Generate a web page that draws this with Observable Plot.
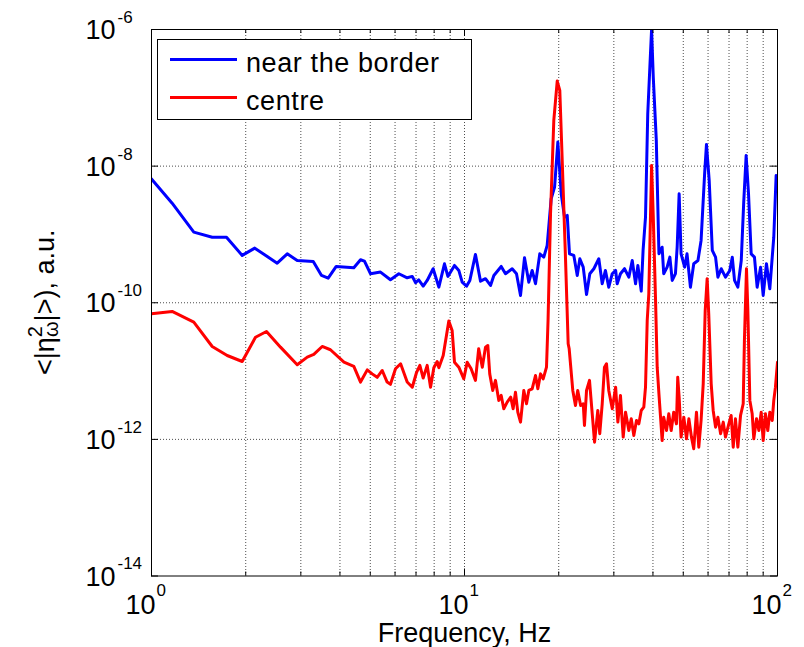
<!DOCTYPE html>
<html>
<head>
<meta charset="utf-8">
<script src="https://cdn.jsdelivr.net/npm/d3@7"></script>
<script src="https://cdn.jsdelivr.net/npm/@observablehq/plot@0.6"></script>
<style>
  html, body { margin: 0; padding: 0; background: #fff; }
  svg { display: block; }
</style>
</head>
<body>
<script>
// Power spectra <|eta_omega^2|> of the surface fluctuations, two probe positions.

// near the border: frequency (Hz) and power (a.u.)
const borderFreq = [
  1.0, 1.164, 1.365, 1.563, 1.736, 1.949, 2.138, 2.521, 2.714, 2.921,
  3.287, 3.493, 3.668, 3.892, 4.43, 4.654, 4.79, 5.01, 5.39, 5.80,
  6.17, 6.56, 6.81, 6.98, 7.14, 7.38, 7.60, 7.94, 8.28, 8.63,
  8.85, 9.29, 9.59, 9.83, 10.15, 10.4, 10.84, 11.25, 11.67, 12.11,
  12.41, 13.1, 13.52, 14.2, 14.66, 15.1, 15.55, 16.05, 16.45, 16.86,
  17.4, 17.92, 18.37, 18.92, 19.4, 19.87, 20.37, 20.87, 21.29, 21.65,
  22.35, 22.92, 23.36, 23.95, 24.54, 25.14, 25.9, 26.86, 27.54, 28.2,
  28.9, 29.65, 30.4, 30.75, 31.5, 32.45, 33.5, 34.35, 35.2, 35.8,
  36.7, 37.2, 37.87, 38.5, 39.1, 39.6, 40.1, 41.0, 41.8, 42.8,
  43.3, 44.4, 45.3, 46.1, 47.2, 47.8, 48.5, 49.2, 50.5, 51.4,
  52.7, 54.0, 55.7, 57.0, 58.5, 59.3, 60.5, 61.9, 63.4, 64.5,
  66.1, 68.2, 70.4, 71.7, 72.9, 74.7, 76.6, 78.0, 79.4, 80.8,
  82.4, 84.4, 86.1, 88.3, 90.0, 92.2, 94.5, 96.2, 97.3, 99.0,
  100
];
const borderPower = [
  6.5e-9, 2.87e-9, 1.08e-9, 9.1e-10, 9.1e-10, 4.93e-10, 6.3e-10, 3.8e-10, 5.2e-10, 4.16e-10,
  4.03e-10, 2.51e-10, 2.29e-10, 3.40e-10, 3.25e-10, 4.26e-10, 4.07e-10, 2.66e-10, 2.81e-10, 2.17e-10,
  2.66e-10, 2.32e-10, 2.43e-10, 1.96e-10, 2.17e-10, 1.75e-10, 2.12e-10, 3.15e-10, 1.69e-10, 3.72e-10,
  2.43e-10, 3.52e-10, 2.97e-10, 2.0e-10, 1.75e-10, 2.12e-10, 5.1e-10, 2.07e-10, 2.25e-10, 1.79e-10,
  2.51e-10, 3.40e-10, 2.66e-10, 3.15e-10, 2.66e-10, 1.28e-10, 4.56e-10, 2.0e-10, 2.97e-10, 1.90e-10,
  5.2e-10, 4.65e-10, 6.9e-10, 3.33e-9, 4.93e-9, 2.25e-8, 3.94e-9, 1.79e-9, 1.90e-9, 5.2e-10,
  4.93e-10, 2.51e-10, 4.41e-10, 3.32e-10, 1.32e-10, 2.66e-10, 3.15e-10, 4.41e-10, 1.90e-10, 2.97e-10,
  1.69e-10, 2.66e-10, 2.97e-10, 1.90e-10, 2.66e-10, 3.15e-10, 2.37e-10, 4.16e-10, 1.90e-10, 3.52e-10,
  1.48e-10, 5.83e-10, 1.79e-9, 5.85e-8, 2.8e-7, 1.0e-6, 2.0e-7, 2.38e-8, 5.2e-10, 6.5e-10,
  2.66e-10, 3.32e-10, 4.65e-10, 2.12e-10, 2.66e-10, 6.5e-10, 3.94e-9, 5.2e-10, 3.32e-10, 5.2e-10,
  1.69e-10, 3.72e-10, 4.16e-10, 8.17e-10, 7.74e-9, 2.08e-8, 6.18e-9, 5.83e-10, 4.65e-10, 2.37e-10,
  3.15e-10, 2.37e-10, 2.97e-10, 4.65e-10, 2.12e-10, 1.69e-10, 4.16e-10, 2.97e-9, 1.43e-8, 3.94e-9,
  5.2e-10, 4.65e-10, 1.69e-10, 3.32e-10, 1.28e-10, 3.72e-10, 1.60e-10, 4.65e-10, 9.1e-10, 7.3e-9,
  7.0e-9
];

// centre: frequency (Hz) and power (a.u.)
const centreFreq = [
  1.0, 1.164, 1.365, 1.563, 1.745, 1.949, 2.149, 2.330, 2.583, 2.921,
  3.145, 3.30, 3.51, 3.73, 4.12, 4.43, 4.654, 4.89, 5.07, 5.26,
  5.46, 5.66, 5.80, 6.02, 6.25, 6.56, 6.81, 7.03, 7.20, 7.38,
  7.60, 7.79, 7.98, 8.18, 8.28, 8.55, 8.91, 9.13, 9.29, 9.59,
  9.95, 10.2, 10.5, 10.84, 11.1, 11.4, 11.67, 11.87, 12.04, 12.31,
  12.56, 12.87, 13.1, 13.35, 13.69, 14.05, 14.3, 14.55, 14.8, 15.1,
  15.47, 15.78, 16.05, 16.45, 16.86, 17.15, 17.5, 17.84, 18.28, 18.49,
  18.83, 19.29, 19.78, 20.16, 20.52, 21.0, 21.44, 21.6, 22.18, 22.62,
  23.0, 23.5, 23.95, 24.17, 24.54, 25.08, 25.59, 26.03, 26.66, 27.05,
  27.54, 28.0, 28.42, 28.9, 29.65, 30.4, 30.9, 31.5, 32.14, 32.7,
  33.5, 34.1, 34.75, 35.44, 36.06, 36.7, 37.4, 37.87, 38.35, 38.8,
  39.3, 39.6, 40.1, 40.75, 41.27, 41.8, 42.3, 42.8, 43.3, 44.2,
  44.95, 45.75, 46.6, 47.55, 48.0, 48.5, 49.2, 50.2, 51.2, 52.1,
  53.1, 54.0, 55.1, 56.05, 57.0, 57.9, 58.75, 59.6, 60.3, 61.4,
  62.3, 63.4, 64.5, 65.8, 67.1, 68.2, 69.9, 71.1, 72.2, 73.4,
  74.7, 76.2, 77.7, 78.4, 79.6, 80.4, 81.6, 83.0, 84.0, 85.7,
  87.2, 88.7, 90.0, 91.5, 93.1, 94.5, 96.2, 97.3, 98.5, 100
];
const centrePower = [
  6.9e-11, 7.46e-11, 5.2e-11, 2.29e-11, 1.69e-11, 1.38e-11, 3.13e-11, 3.8e-11, 2.24e-11, 1.24e-11,
  1.60e-11, 1.75e-11, 2.29e-11, 2.05e-11, 1.35e-11, 1.17e-11, 6.9e-12, 1.04e-11, 9.1e-12, 8.1e-12,
  1.02e-11, 6.9e-12, 6.4e-12, 1.08e-11, 1.28e-11, 6.9e-12, 5.8e-12, 9.6e-12, 1.21e-11, 7.9e-12,
  1.21e-11, 5.8e-12, 1.12e-11, 1.38e-11, 1.12e-11, 1.69e-11, 5.4e-11, 3.93e-11, 1.35e-11, 1.14e-11,
  7.7e-12, 1.35e-11, 1.08e-11, 7.3e-12, 2.12e-11, 1.14e-11, 2.24e-11, 2.37e-11, 9.1e-12, 5.2e-12,
  7.3e-12, 3.72e-12, 4.4e-12, 2.81e-12, 3.51e-12, 4.15e-12, 2.81e-12, 4.91e-12, 2.5e-12, 1.79e-12,
  5.2e-12, 3.32e-12, 5.2e-12, 5.5e-12, 8.6e-12, 5.5e-12, 9.1e-12, 7.7e-12, 1.14e-11, 5.5e-11,
  2.01e-9, 4.67e-8, 1.76e-7, 1.28e-7, 1.21e-8, 5.2e-10, 2.51e-11, 2.12e-11, 5.2e-12, 3.13e-12,
  5.2e-12, 3.13e-12, 3.32e-12, 1.60e-12, 5.2e-12, 7.3e-12, 2.37e-12, 9.1e-13, 2.65e-12, 1.21e-12,
  3.32e-12, 1.14e-11, 1.28e-11, 5.2e-12, 2.81e-12, 5.8e-12, 1.79e-12, 4.4e-12, 1.08e-12, 2.5e-12,
  1.35e-12, 2.0e-12, 1.14e-12, 1.89e-12, 1.69e-12, 2.65e-12, 2.96e-12, 5.8e-12, 5.5e-11, 1.35e-10,
  2.01e-9, 1.02e-8, 1.79e-9, 1.21e-10, 1.14e-11, 4.65e-12, 2.11e-12, 9.6e-13, 2.11e-12, 1.35e-12,
  2.37e-12, 1.35e-12, 2.5e-12, 1.69e-12, 8.1e-12, 4.15e-12, 1.08e-12, 2.11e-12, 1.02e-12, 2.0e-12,
  1.08e-12, 7.3e-13, 2.5e-12, 7.7e-13, 1.89e-12, 6.5e-12, 7.7e-11, 2.25e-10, 6.9e-11, 6.5e-12,
  2.65e-12, 1.51e-12, 2.11e-12, 1.21e-12, 1.79e-12, 1.08e-12, 1.69e-12, 2.24e-12, 7.7e-13, 2.0e-12,
  7.7e-13, 2.24e-12, 3.32e-12, 2.81e-11, 3.15e-10, 7.7e-11, 3.72e-12, 2.37e-12, 1.02e-12, 2.0e-12,
  1.35e-12, 2.5e-12, 9.6e-13, 2.37e-12, 1.35e-12, 2.5e-12, 1.89e-12, 3.72e-12, 5.8e-12, 1.35e-11
];

// axis ticks
const xMajor = [1, 10, 100];
const xMinor = [2, 3, 4, 5, 6, 7, 8, 9, 20, 30, 40, 50, 60, 70, 80, 90];
const yMajor = [1e-14, 1e-12, 1e-10, 1e-8, 1e-6];
const xGrid = [...xMinor, 10];
const yGrid = [1e-12, 1e-10, 1e-8];

// series names and colours
const seriesNames = ["near the border", "centre"];
const seriesColors = ["#0000ff", "#ff0000"];

const border = borderFreq.map((f, i) => ({f, p: borderPower[i]}));
const centre = centreFreq.map((f, i) => ({f, p: centrePower[i]}));

const W = 804, H = 647;
const M = {left: 151, right: 27, top: 29, bottom: 71.5};
const plotW = W - M.left - M.right;
const plotH = H - M.top - M.bottom;
const FONT = "'Liberation Sans', Arial, Helvetica, sans-serif";
const gridStyle = {stroke: "#000", strokeOpacity: 0.7, strokeDasharray: "1,2", strokeWidth: 1};

const chart = Plot.plot({
  width: W,
  height: H,
  marginLeft: M.left,
  marginRight: M.right,
  marginTop: M.top,
  marginBottom: M.bottom,
  style: {fontFamily: FONT, background: "#fff", color: "#000", overflow: "visible"},
  x: {type: "log", domain: [1, 100], axis: null},
  y: {type: "log", domain: [1e-14, 1e-6], axis: null},
  marks: [
    Plot.gridX(xGrid, gridStyle),
    Plot.gridY(yGrid, gridStyle),
    Plot.line(border, {x: "f", y: "p", stroke: seriesColors[0], strokeWidth: 3, strokeLinejoin: "round", clip: true}),
    Plot.line(centre, {x: "f", y: "p", stroke: seriesColors[1], strokeWidth: 3, strokeLinejoin: "round", clip: true}),
    Plot.frame({stroke: "#000", strokeWidth: 1}),
    // inward ticks on all four sides
    Plot.tickX(xMinor, {x: d => d, insetTop: plotH - 4, stroke: "#000"}),
    Plot.tickX(xMinor, {x: d => d, insetBottom: plotH - 4, stroke: "#000"}),
    Plot.tickX(xMajor, {x: d => d, insetTop: plotH - 7, stroke: "#000"}),
    Plot.tickX(xMajor, {x: d => d, insetBottom: plotH - 7, stroke: "#000"}),
    Plot.tickY(yMajor, {y: d => d, insetRight: plotW - 7, stroke: "#000"}),
    Plot.tickY(yMajor, {y: d => d, insetLeft: plotW - 7, stroke: "#000"}),
    // y tick labels: 10 with exponent
    Plot.text(yMajor, {y: d => d, frameAnchor: "left", text: () => "10", dx: -36, dy: 1,
      textAnchor: "end", lineAnchor: "middle", fontSize: 27, fill: "#000"}),
    Plot.text(yMajor, {y: d => d, frameAnchor: "left", text: d => String(Math.round(Math.log10(d))),
      dx: -34, dy: -12, textAnchor: "start", lineAnchor: "middle", fontSize: 17, fill: "#000"}),
    // x tick labels
    Plot.text(xMajor, {x: d => d, frameAnchor: "bottom", text: () => "10", dx: 4, dy: 29,
      textAnchor: "end", lineAnchor: "middle", fontSize: 27, fill: "#000"}),
    Plot.text(xMajor, {x: d => d, frameAnchor: "bottom", text: d => String(Math.round(Math.log10(d))),
      dx: 5, dy: 15, textAnchor: "start", lineAnchor: "middle", fontSize: 17, fill: "#000"}),
    // x axis title
    Plot.text(["Frequency, Hz"], {frameAnchor: "bottom", text: d => d, dy: 66,
      lineAnchor: "bottom", fontSize: 27, fill: "#000", style: {letterSpacing: "0.5px"}})
  ]
});

const svg = d3.select(chart);

// y axis title with stacked super/subscript
const yTitle = svg.append("text")
  .attr("transform", `translate(54,${M.top + plotH / 2}) rotate(-90)`)
  .attr("text-anchor", "middle")
  .attr("font-family", FONT)
  .attr("font-size", 27)
  .attr("fill", "#000");
yTitle.append("tspan").text("<|η");
yTitle.append("tspan").attr("font-size", 20).attr("dy", -12).text("2");
yTitle.append("tspan").attr("font-size", 20).attr("dx", -11).attr("dy", 16).text("ω");
yTitle.append("tspan").attr("dy", -4).text("|>), a.u.");

// legend box
const lg = svg.append("g")
  .attr("font-family", FONT)
  .attr("font-size", 27)
  .attr("text-anchor", "start");
lg.append("rect")
  .attr("x", 157.5).attr("y", 39.5).attr("width", 314).attr("height", 80)
  .attr("fill", "#fff").attr("stroke", "#000").attr("stroke-width", 1);
const rows = [59.5, 97.5];
seriesNames.forEach((name, i) => {
  lg.append("line")
    .attr("x1", 170).attr("x2", 237).attr("y1", rows[i]).attr("y2", rows[i])
    .attr("stroke", seriesColors[i]).attr("stroke-width", 3);
  lg.append("text")
    .attr("x", 246).attr("y", rows[i] + 12)
    .attr("text-anchor", "start")
    .attr("letter-spacing", "0.6px")
    .attr("fill", "#000").text(name);
});

document.body.appendChild(chart);
</script>
</body>
</html>
